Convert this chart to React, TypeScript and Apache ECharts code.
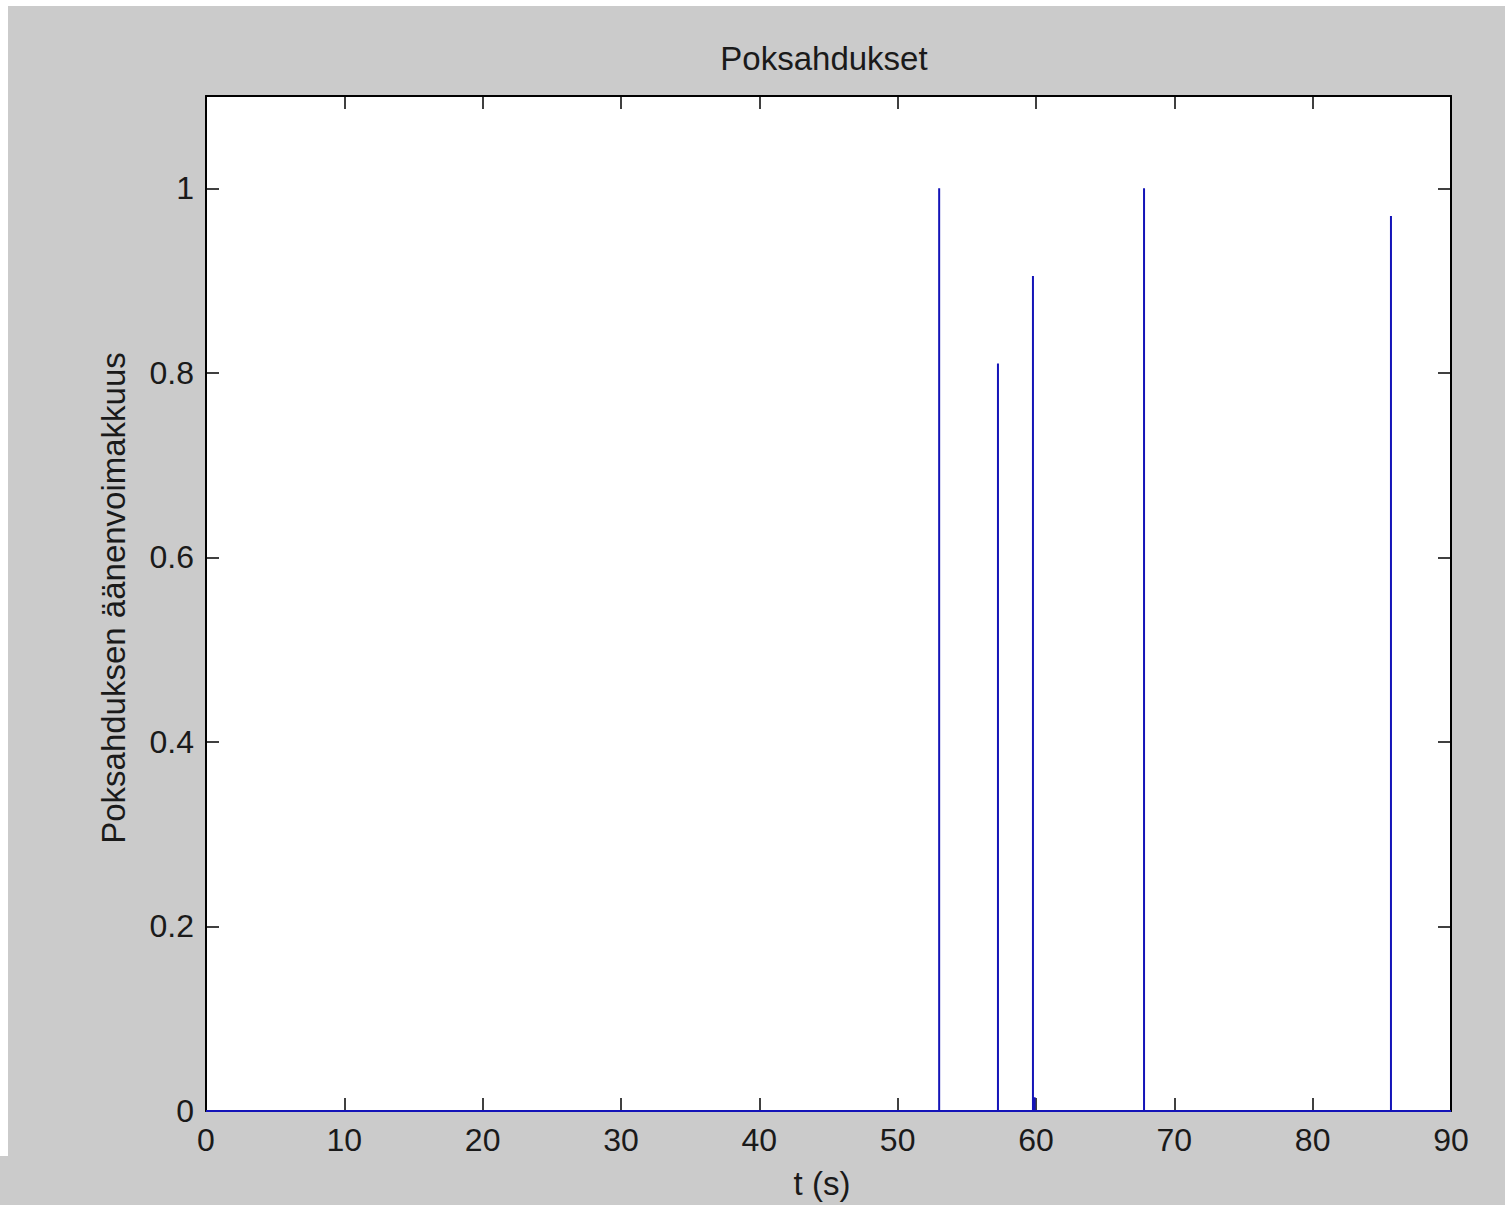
import React, { useEffect, useRef } from "react";
import * as echarts from "echarts";

const titleText = "Poksahdukset";
const xName = "t (s)";
const yName = "Poksahduksen äänenvoimakkuus";
const xMin = 0;
const xMax = 90;
const yMin = 0;
const yMax = 1.1;
const spikeTimes = [53.0, 57.25, 59.78, 59.9, 67.81, 85.66];
const spikeHeights = [1.0, 0.81, 0.905, 0.015, 1.0, 0.97];

const FONT = "'Liberation Sans', Arial, Helvetica, sans-serif";
const GREY = "#cbcbcb";
const LINE = "#1414b8";

function buildData(): [number, number][] {
  const pts: [number, number][] = [[xMin, 0]];
  spikeTimes.forEach((t, i) => {
    pts.push([t, 0]);
    pts.push([t, spikeHeights[i]]);
    pts.push([t, 0]);
  });
  pts.push([xMax, 0]);
  return pts;
}

const tick = () => ({ show: true, inside: true, length: 13, lineStyle: { color: "#000", width: 1.5 } });
const aLine = () => ({ show: true, onZero: false, lineStyle: { color: "#000", width: 2 } });

export default function App() {
  const ref = useRef<HTMLDivElement>(null);
  useEffect(() => {
    if (!ref.current) return;
    const chart = echarts.init(ref.current, undefined, { renderer: "svg" });
    const labelStyle = { color: "#1a1a1a", fontSize: 32, fontFamily: FONT };
    chart.setOption({
      animation: false,
      backgroundColor: GREY,
      grid: { left: 198, top: 90, right: 54, bottom: 94, show: true, backgroundColor: "#ffffff", borderWidth: 0 },
      xAxis: [
        {
          type: "value",
          min: xMin,
          max: xMax,
          interval: 10,
          position: "bottom",
          axisLine: aLine(),
          axisTick: tick(),
          splitLine: { show: false },
          axisLabel: { ...labelStyle, margin: 13 },
        },
        {
          type: "value",
          min: xMin,
          max: xMax,
          interval: 10,
          position: "top",
          axisLine: aLine(),
          axisTick: tick(),
          splitLine: { show: false },
          axisLabel: { show: false },
        },
      ],
      yAxis: [
        {
          type: "value",
          min: yMin,
          max: yMax,
          interval: 0.2,
          position: "left",
          axisLine: aLine(),
          axisTick: tick(),
          splitLine: { show: false },
          axisLabel: { ...labelStyle, margin: 12, showMaxLabel: false },
        },
        {
          type: "value",
          min: yMin,
          max: yMax,
          interval: 0.2,
          position: "right",
          axisLine: aLine(),
          axisTick: tick(),
          splitLine: { show: false },
          axisLabel: { show: false },
        },
      ],
      series: [
        {
          type: "line",
          xAxisIndex: 0,
          yAxisIndex: 0,
          data: buildData(),
          showSymbol: false,
          symbol: "none",
          lineStyle: { color: LINE, width: 2 },
          z: 5,
        },
      ],
      graphic: [
        {
          type: "text",
          x: 816,
          y: 52,
          style: { text: titleText, font: `33px ${FONT}`, fill: "#1a1a1a", align: "center", verticalAlign: "middle" },
        },
        {
          type: "text",
          x: 814,
          y: 1177,
          style: { text: xName, font: `33px ${FONT}`, fill: "#1a1a1a", align: "center", verticalAlign: "middle" },
        },
        {
          type: "text",
          x: 105,
          y: 592,
          rotation: Math.PI / 2,
          style: { text: yName, font: `33px ${FONT}`, fill: "#1a1a1a", align: "center", verticalAlign: "middle" },
        },
      ],
    });
    return () => chart.dispose();
  }, []);
  return (
    <div style={{ position: "absolute", left: 0, top: 0, width: 1505, height: 1205, background: "#ffffff", overflow: "hidden" }}>
      <div style={{ position: "absolute", left: 0, top: 1156, width: 1505, height: 49, background: GREY }} />
      <div ref={ref} style={{ position: "absolute", left: 8, top: 6, width: 1497, height: 1199 }} />
    </div>
  );
}
